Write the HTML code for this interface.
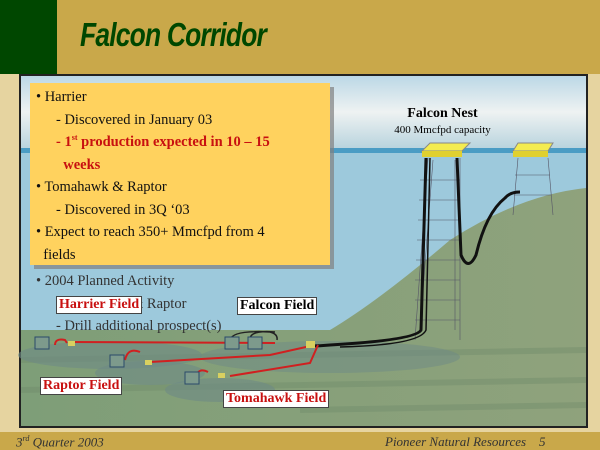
<!DOCTYPE html>
<html><head><style>
body{margin:0;width:600px;height:450px;overflow:hidden;background:#e6d4a0;font-family:"Liberation Serif",serif;position:relative}
.a{position:absolute}
</style></head><body>
<div class="a" style="left:0;top:0;width:57px;height:74px;background:#004700"></div>
<div class="a" style="left:57px;top:0;width:543px;height:74px;background:#c9a84a"></div>
<div class="a" style="left:80px;top:16px;font:italic bold 33px 'Liberation Sans',sans-serif;color:#004700;transform:scaleX(0.8);transform-origin:left;letter-spacing:-1px">Falcon Corridor</div>
<div class="a" style="left:0;top:432px;width:600px;height:18px;background:#c9a84a"></div>
<div class="a" style="left:16px;top:434px;font:italic 13px 'Liberation Serif',serif;color:#333">3<sup style="font-size:8px">rd</sup> Quarter 2003</div>
<div class="a" style="left:385px;top:434px;font:italic 13px 'Liberation Serif',serif;color:#333">Pioneer Natural Resources &nbsp;&nbsp; 5</div>
<svg class="a" style="left:0;top:0" width="600" height="450">
<defs>
<linearGradient id="sky" x1="0" y1="0" x2="0" y2="1"><stop offset="0" stop-color="#bcd8e6"/><stop offset="0.5" stop-color="#eef2f2"/><stop offset="1" stop-color="#b9d4de"/></linearGradient>
<linearGradient id="sea" x1="0" y1="0" x2="1" y2="0"><stop offset="0" stop-color="#7e9e78"/><stop offset="1" stop-color="#8fa27c"/></linearGradient>
</defs>
<rect x="20" y="75" width="567" height="352" fill="#9dc9dc" stroke="#222" stroke-width="2"/>
<rect x="21" y="76" width="565" height="72" fill="url(#sky)"/>
<rect x="21" y="148" width="565" height="5" fill="#4a9cc4"/>
<path d="M21 330 L330 330 Q380 300 450 240 Q520 195 586 188 L586 426 L21 426Z" fill="url(#sea)"/>
<path d="M21 360 L586 350 M21 390 L586 380 M300 410 L586 405" stroke="#6f8a6a" stroke-width="6" opacity="0.4"/>
<ellipse cx="110" cy="355" rx="92" ry="14" fill="#6e8a86" opacity="0.6"/>
<ellipse cx="330" cy="357" rx="130" ry="16" fill="#6e8a86" opacity="0.5"/>
<ellipse cx="150" cy="373" rx="55" ry="12" fill="#6e8a86" opacity="0.6"/>
<ellipse cx="220" cy="390" rx="55" ry="12" fill="#6e8a86" opacity="0.6"/>
<g stroke="#556" stroke-width="0.6" fill="none">
<path d="M428 158 L415 340 M460 158 L460 340 M433 160 L420 330 M455 160 L455 330"/>
<path d="M420 180 H460 M419 200 H460 M418 220 H460 M417 240 H460 M416 260 H460 M415 280 H460 M415 300 H460 M415 320 H460"/>
<path d="M518 158 L513 215 M548 158 L553 215 M515 175 H550 M514 195 H551"/>
</g>
<polygon points="430,143 470,143 462,151 422,151" fill="#f4ec50" stroke="#888"/><rect x="422" y="151" width="40" height="6" fill="#e0d030"/>
<polygon points="518,143 553,143 548,151 513,151" fill="#f4ec50" stroke="#888"/><rect x="513" y="151" width="35" height="6" fill="#e0d030"/>
<path d="M426 158 L421 330 Q416 340 330 345 Q320 346 310 346" stroke="#111" stroke-width="3" fill="none"/>
<path d="M430 158 L426 330 Q420 345 340 347" stroke="#111" stroke-width="1.5" fill="none"/>
<path d="M457 158 L461 255 Q468 272 476 255 Q486 213 505 198 Q510 192 520 192" stroke="#111" stroke-width="3" fill="none"/>
<g stroke="#d02020" stroke-width="2" fill="none">
<path d="M70 342 L275 343 M150 362 L270 355 L315 345 M230 376 L310 363 L318 345"/>
<path d="M55 345 Q55 338 65 340 L67 343 M125 360 Q128 347 140 352 M195 378 Q198 367 208 372"/>
</g>
<path d="M230 340 Q232 330 270 332 Q278 334 277 340 M250 338 Q252 330 275 332" stroke="#222" stroke-width="1.5" fill="none"/>
<g fill="#7d9a8c" stroke="#2a4a6a" stroke-width="1">
<rect x="35" y="337" width="14" height="12"/><rect x="110" y="355" width="14" height="12"/><rect x="185" y="372" width="14" height="12"/>
<rect x="225" y="337" width="14" height="12"/><rect x="248" y="337" width="14" height="12"/>
</g>
<g fill="#d8d060"><rect x="68" y="341" width="7" height="5"/><rect x="145" y="360" width="7" height="5"/><rect x="218" y="373" width="7" height="5"/><rect x="306" y="341" width="9" height="7"/></g>
</svg>
<div class="a" style="left:34px;top:87px;width:300px;height:182px;background:#808080;opacity:.7"></div>
<div class="a" style="left:30px;top:83px;width:300px;height:182px;background:#ffd25e"></div>
<div class="a" style="left:36px;top:86px;font-size:14.5px;line-height:22.5px;color:#111;width:290px">
<div>• Harrier</div>
<div style="padding-left:20px">- Discovered in January 03</div>
<div style="padding-left:20px;color:#c81010;font-weight:bold">- 1<sup style="font-size:8px;line-height:0">st</sup> production expected in 10 – 15<br>&nbsp;&nbsp;weeks</div>
<div>• Tomahawk &amp; Raptor</div>
<div style="padding-left:20px">- Discovered in 3Q ‘03</div>
<div>• Expect to reach 350+ Mmcfpd from 4<br>&nbsp;&nbsp;fields</div>
</div>
<div class="a" style="left:36px;top:270px;font-size:14.5px;line-height:22.5px;color:#333">
<div>• 2004 Planned Activity</div>
<div style="padding-left:20px">- Tomahawk &amp; Raptor</div>
<div style="padding-left:20px">- Drill additional prospect(s)</div>
</div>
<div class="a" style="left:380px;top:106px;width:125px;text-align:center;font:bold 14px 'Liberation Serif',serif">Falcon Nest</div>
<div class="a" style="left:370px;top:124px;width:145px;text-align:center;font-size:11px">400 Mmcfpd capacity</div>
<div class="a" style="left:56px;top:296px;background:#fff;border:1px solid #444;padding:0 2px;font:bold 14px 'Liberation Serif',serif;color:#c81010">Harrier Field</div>
<div class="a" style="left:237px;top:297px;background:#fff;border:1px solid #444;padding:0 2px;font:bold 14px 'Liberation Serif',serif;color:#000">Falcon Field</div>
<div class="a" style="left:40px;top:377px;background:#fff;border:1px solid #444;padding:0 2px;font:bold 14px 'Liberation Serif',serif;color:#c81010">Raptor Field</div>
<div class="a" style="left:223px;top:390px;background:#fff;border:1px solid #444;padding:0 2px;font:bold 14px 'Liberation Serif',serif;color:#c81010">Tomahawk Field</div>
</body></html>
